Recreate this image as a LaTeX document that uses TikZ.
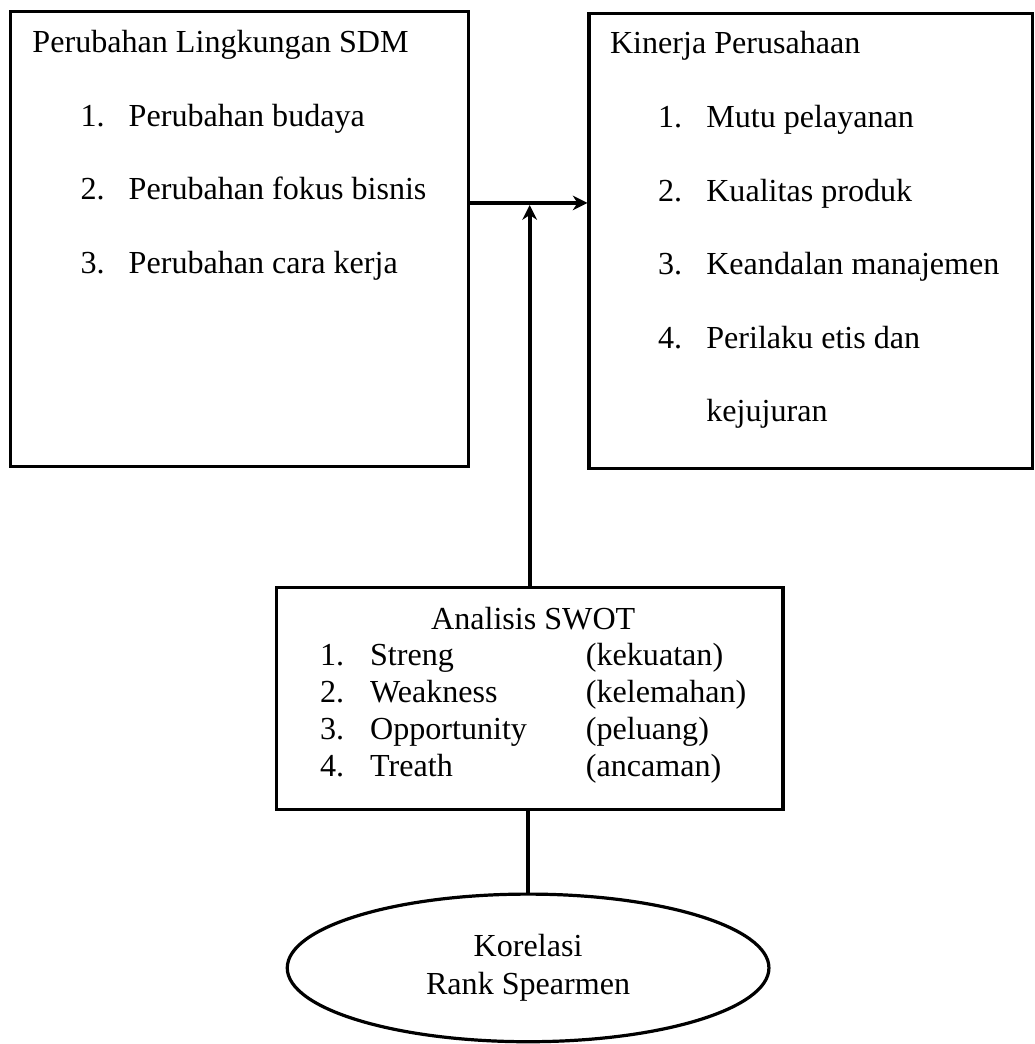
\documentclass[tikz,border=0pt]{standalone}
\usepackage{fontspec}
\setmainfont{Liberation Serif}
\usetikzlibrary{shapes.geometric,arrows.meta}

\newcommand{\butir}[2]{\hspace*{18pt}\makebox[18pt][l]{#1}#2}

\begin{document}
\begin{tikzpicture}[
    box/.style={draw=black, line width=1.2pt, rectangle, inner sep=0pt, anchor=north west},
    isi/.style={anchor=north west, inner sep=0pt, align=left, font=\fontsize{12pt}{27.5pt}\selectfont},
    arrow/.style={-{Stealth[length=5.5pt,width=5.5pt]}, line width=1.6pt},
    line/.style={line width=1.5pt}]

    \useasboundingbox (0,0) rectangle (13.6,-13.72);

    \node (sdm) [box, minimum width=6.02cm, minimum height=5.98cm] at (0.12,-0.13) {};
    \node (kinerja) [box, minimum width=5.83cm, minimum height=5.98cm] at (7.72,-0.16) {};
    \node (swot) [box, minimum width=6.66cm, minimum height=2.92cm] at (3.61,-7.70) {};
    \node (korelasi) [draw, ellipse, line width=1.2pt, minimum width=6.33cm, minimum height=1.94cm, inner sep=0pt, align=center, font=\fontsize{12pt}{14pt}\selectfont] at (6.94,-12.72) {Korelasi\\Rank Spearmen};

    \node (sdmtext) [isi] at ([xshift=0.30cm, yshift=-0.26cm]sdm.north west) {Perubahan Lingkungan SDM\\ \butir{1.}{Perubahan budaya}\\ \butir{2.}{Perubahan fokus bisnis}\\ \butir{3.}{Perubahan cara kerja}};
    \node (kinerjatext) [isi] at ([xshift=0.29cm, yshift=-0.25cm]kinerja.north west) {Kinerja Perusahaan\\ \butir{1.}{Mutu pelayanan}\\ \butir{2.}{Kualitas produk}\\ \butir{3.}{Keandalan manajemen}\\ \butir{4.}{Perilaku etis dan}\\ \hspace*{36pt}kejujuran};
    \node (swottext) [anchor=north west, inner sep=0pt, font=\fontsize{12pt}{13.8pt}\selectfont] at ([xshift=0.59cm, yshift=-0.22cm]swot.north west) {%
        \begin{tabular}{@{}p{18.7pt}@{}p{80.7pt}@{}l@{}}
            \multicolumn{3}{@{}c@{}}{Analisis SWOT}\\
            1. & Streng & (kekuatan)\\
            2. & Weakness & (kelemahan)\\
            3. & Opportunity & (peluang)\\
            4. & Treath & (ancaman)
        \end{tabular}};

    \coordinate (hub) at (6.94,-2.667);
    \draw [arrow] (sdm.east |- hub) -- (kinerja.west |- hub);
    \draw [arrow, shorten >=0.8pt] (swot.north) -- (swot.north |- hub);
    \draw [line] (korelasi.north) -- (korelasi.north |- swot.south);
\end{tikzpicture}
\end{document}
